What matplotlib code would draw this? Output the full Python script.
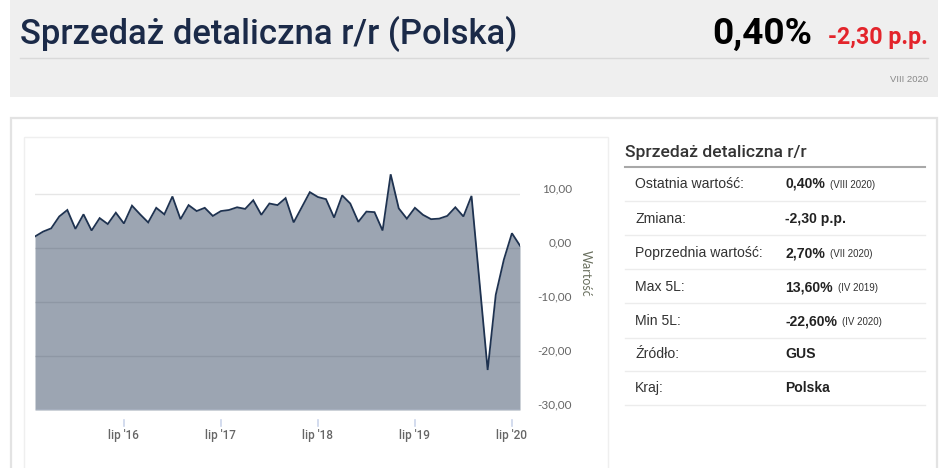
import matplotlib
matplotlib.use("Agg")
import matplotlib.pyplot as plt
from matplotlib.lines import Line2D
from matplotlib.patches import Rectangle
import matplotlib.transforms as mtrans

# ---------------- data ----------------
months = list(range(61))  # VIII 2015 .. VIII 2020
values = [2.1, 3.0, 3.6, 5.8, 7.0, 3.5, 6.2, 3.2, 5.5, 4.4, 6.5, 4.5,
          7.8, 6.2, 4.7, 7.4, 6.2, 9.5, 5.3, 7.9, 6.8, 7.4, 5.9, 6.8,
          7.0, 7.5, 7.2, 8.8, 6.1, 8.2, 7.9, 9.2, 4.7, 7.5, 10.3, 9.4,
          9.0, 5.6, 9.7, 8.2, 4.8, 6.7, 6.6, 3.2, 13.6, 7.3, 5.4, 7.4,
          6.1, 5.3, 5.4, 5.9, 7.5, 5.8, 9.6, -6.5, -22.6, -8.7, -2.2, 2.7, 0.4]
xtick_pos = [11, 23, 35, 47, 59]
xtick_labels = ["lip '16", "lip '17", "lip '18", "lip '19", "lip '20"]
ytick_vals = [10, 0, -10, -20, -30]
ytick_labels = ["10,00", "0,00", "-10,00", "-20,00", "-30,00"]

title = "Sprzedaż detaliczna r/r (Polska)"
last_value = "0,40%"
change = "-2,30 p.p."
period = "VIII 2020"
table_title = "Sprzedaż detaliczna r/r"
row_labels = ["Ostatnia wartość:", "Zmiana:", "Poprzednia wartość:", "Max 5L:",
              "Min 5L:", "Źródło:", "Kraj:"]
row_values = ["0,40%", "-2,30 p.p.", "2,70%", "13,60%", "-22,60%", "GUS", "Polska"]
row_notes = ["(VIII 2020)", "", "(VII 2020)", "(IV 2019)", "(IV 2020)", "", ""]

# ---------------- figure ----------------
W, H = 948, 468
fig = plt.figure(figsize=(W / 100, H / 100), dpi=100)
fig.patch.set_facecolor("white")
renderer = fig.canvas.get_renderer()

HEAD = ["Roboto", "DejaVu Sans"]
UI = ["Lato", "DejaVu Sans"]
ARIAL = ["Liberation Sans", "DejaVu Sans"]


def fx(x):
    return x / W


def fy(y):
    return 1 - y / H


def text_px(x, y, s, fit_width=None, **kw):
    t = fig.text(fx(x), fy(y), s, **kw)
    if fit_width is not None:
        for _ in range(3):
            w = t.get_window_extent(renderer).width
            t.set_fontsize(t.get_fontsize() * fit_width / w)
    return t


def hline(x0, x1, y, color, lw):
    fig.add_artist(Line2D([fx(x0), fx(x1)], [fy(y), fy(y)], color=color, lw=lw,
                          transform=fig.transFigure))


# header box
fig.add_artist(Rectangle((fx(10), fy(97)), fx(938) - fx(10), fy(0) - fy(97),
                         transform=fig.transFigure, facecolor="#efefef", edgecolor="none", zorder=0))
text_px(20, 44, title, fit_width=498, fontsize=24, color="#1b2a48",
        family=HEAD, fontweight="medium", va="baseline", ha="left")
text_px(812, 44, last_value, fit_width=100, fontsize=22, color="black",
        family=HEAD, fontweight="bold", va="baseline", ha="right")
text_px(928, 44, change, fit_width=100, fontsize=15, color="#e3242b",
        family=HEAD, fontweight="bold", va="baseline", ha="right")
hline(20, 928, 58, "#d9d9d9", 1)
text_px(928, 80, period, fit_width=38, fontsize=6, color="#888888",
        family=["Liberation Sans Narrow", "Liberation Sans"], va="center", ha="right")

# outer content box and chart frame
fig.add_artist(Rectangle((fx(11), fy(470)), fx(937) - fx(11), fy(118) - fy(470),
                         transform=fig.transFigure, facecolor="white", edgecolor="#e3e3e3",
                         lw=1.6, zorder=0))
fig.add_artist(Rectangle((fx(24), fy(470)), fx(608) - fx(24), fy(137) - fy(470),
                         transform=fig.transFigure, facecolor="none", edgecolor="#efefef",
                         lw=1.0, zorder=0))

# ---------------- chart ----------------
ax = fig.add_axes([fx(35), fy(410), fx(520) - fx(35), fy(137) - fy(410)])
ax.set_xlim(0, 60)
ax.set_ylim(-30, 20.5)
ax.patch.set_alpha(0)
for s in ax.spines.values():
    s.set_visible(False)
ax.set_xticks([])
ax.set_yticks([])

for v in ytick_vals[:-1]:
    ax.axhline(v, color="#e6e6e6", lw=1, zorder=1)
ax.axhline(-30, color="#ccd6eb", lw=1, zorder=4)

ax.fill_between(months, values, -30, color="#1e3250", alpha=0.44, lw=0, zorder=2)
ax.plot(months, values, color="#1e3250", lw=1.3, zorder=3, solid_joinstyle="miter")

# y labels on the right
ytrans = mtrans.blended_transform_factory(fig.transFigure, ax.transData)
yoff = mtrans.ScaledTranslation(0, 5 / 100, fig.dpi_scale_trans)
for v, lab in zip(ytick_vals, ytick_labels):
    fig.text(fx(572), v, lab, transform=ytrans + yoff, ha="right", va="center",
             fontsize=8.5, color="#666666", family=UI)
fig.text(fx(586), fy(273), "Wartość", rotation=270, ha="center", va="center",
         fontsize=9, color="#6a705f", family=UI)

# x ticks and labels
xtrans = mtrans.blended_transform_factory(ax.transData, fig.transFigure)
for p, lab in zip(xtick_pos, xtick_labels):
    fig.add_artist(Line2D([p, p], [fy(420), fy(426)], color="#ccd6eb", lw=1.2, transform=xtrans))
    fig.text(p, fy(436), lab, transform=xtrans, ha="center", va="center",
             fontsize=8.5, color="#666666", fontweight="medium", family=HEAD)

# ---------------- table ----------------
text_px(625, 157, table_title, fit_width=181, fontsize=12, color="#333333",
        family=HEAD, fontweight="medium", va="baseline", ha="left")
hline(625, 925, 166.5, "#a8a8a8", 1.5)

row_centers = [184, 219, 253, 287, 321, 354, 388]
row_seps = [201, 235, 269, 303, 338, 371, 405]
for yc, ysep, lab, val, note in zip(row_centers, row_seps, row_labels, row_values, row_notes):
    fig.text(fx(635), fy(yc), lab, ha="left", va="center", fontsize=10.1,
             color="#333333", family=ARIAL)
    tv = fig.text(fx(785), fy(yc), val, ha="left", va="center", fontsize=10.1,
                  color="#222222", fontweight="bold", family=ARIAL)
    if note:
        w = tv.get_window_extent(renderer).width
        fig.text(fx(785 + w + 5), fy(yc + 1), note, ha="left", va="center", fontsize=7,
                 color="#333333", family=ARIAL)
    hline(625, 925, ysep, "#ececec", 1)

fig.savefig("out.png", dpi=100, facecolor="white")
